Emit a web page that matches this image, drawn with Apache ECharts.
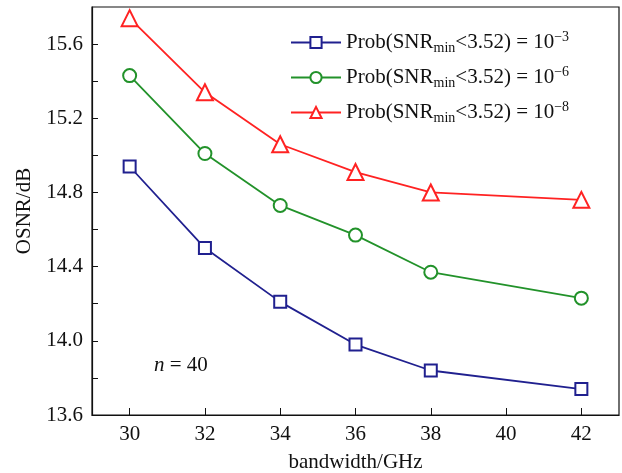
<!DOCTYPE html>
<html>
<head>
<meta charset="utf-8">
<script src="https://cdn.jsdelivr.net/npm/echarts@6/dist/echarts.min.js"></script>
<style>
  html, body { margin: 0; padding: 0; background: #fff; }
  #chart { width: 622px; height: 473px; }
</style>
</head>
<body>
<div id="chart"></div>
<script>
// bandwidth (GHz)
const bandwidth = [30, 32, 34, 36, 38, 42];
// OSNR (dB) per outage probability
const osnrP3 = [14.94, 14.50, 14.21, 13.98, 13.84, 13.74];
const osnrP6 = [15.43, 15.01, 14.73, 14.57, 14.37, 14.23];
const osnrP8 = [15.74, 15.34, 15.06, 14.91, 14.80, 14.76];
const seriesExp = ['-3', '-6', '-8'];

const xTicks = [30, 32, 34, 36, 38, 40, 42];
const yLabels = [13.6, 14.0, 14.4, 14.8, 15.2, 15.6];
const yTicks = [13.8, 14.0, 14.2, 14.4, 14.6, 14.8, 15.0, 15.2, 15.4, 15.6];

const font = '"Liberation Serif", "DejaVu Serif", serif';
const colors = ['#20208f', '#22922a', '#ff2222'];
const symbols = ['emptyRect', 'emptyCircle', 'emptyTriangle'];
const symbolSizes = [12, 13, 16];
const seriesData = [osnrP3, osnrP6, osnrP8];

const names = seriesExp.map((e) => 'p' + e);

const chart = echarts.init(document.getElementById('chart'));

const series = seriesData.map((vals, i) => ({
  name: names[i],
  type: 'line',
  data: bandwidth.map((b, j) => [b, vals[j]]),
  symbol: symbols[i],
  symbolSize: symbolSizes[i],
  lineStyle: { color: colors[i], width: 1.8 },
  itemStyle: { color: colors[i], borderColor: colors[i], borderWidth: 1.8 },
}));

chart.setOption({
  backgroundColor: '#fff',
  animation: false,
  grid: { left: 92, right: 3, top: 7, bottom: 58, outerBoundsMode: 'none', containLabel: false },
  legend: {
    orient: 'vertical',
    left: 285,
    top: 25,
    itemWidth: 50,
    itemHeight: 14,
    itemGap: 10,
    data: names,
    formatter: (name) => {
      const e = seriesExp[names.indexOf(name)];
      return 'Prob(SNR{sub|min}<3.52) = 10{sup|\u2212' + e.slice(1) + '}';
    },
    textStyle: {
      fontFamily: font,
      fontSize: 21,
      color: '#111',
      rich: {
        sub: { fontFamily: font, fontSize: 14, color: '#111', padding: [11, 0, 0, 0] },
        sup: { fontFamily: font, fontSize: 14, color: '#111', padding: [0, 0, 11, 0] },
      },
    },
  },
  xAxis: {
    type: 'value',
    min: 29,
    max: 43,
    name: 'bandwidth/GHz',
    nameLocation: 'middle',
    nameGap: 37,
    nameTextStyle: { fontFamily: font, fontSize: 21, color: '#111' },
    axisLine: { lineStyle: { color: '#111', width: 1.2 } },
    axisTick: { inside: true, length: 7, customValues: xTicks, lineStyle: { color: '#111' } },
    axisLabel: { customValues: xTicks, fontFamily: font, fontSize: 21, color: '#111', margin: 9 },
    splitLine: { show: false },
  },
  yAxis: {
    type: 'value',
    min: 13.6,
    max: 15.8,
    name: 'OSNR/dB',
    nameLocation: 'middle',
    nameGap: 55,
    nameTextStyle: { fontFamily: font, fontSize: 21, color: '#111' },
    axisLine: { show: true, lineStyle: { color: '#111', width: 1.2 } },
    axisTick: { show: true, inside: true, length: 6, customValues: yTicks, lineStyle: { color: '#111' } },
    axisLabel: {
      customValues: yLabels,
      fontFamily: font,
      fontSize: 21,
      color: '#111',
      margin: 9,
      formatter: (v) => v.toFixed(1),
    },
    splitLine: { show: false },
  },
  graphic: [
    {
      type: 'rect',
      shape: { x: 92, y: 7, width: 527, height: 408 },
      style: { fill: 'none', stroke: '#111', lineWidth: 1.2 },
      silent: true,
      z: 10,
    },
    {
      type: 'text',
      left: 154,
      top: 355,
      style: {
        text: '{i|n} = 40',
        fontFamily: font,
        fontSize: 21,
        fill: '#111',
        rich: { i: { fontFamily: font, fontStyle: 'italic', fontSize: 21 } },
      },
    },
  ],
  series,
});
</script>
</body>
</html>
